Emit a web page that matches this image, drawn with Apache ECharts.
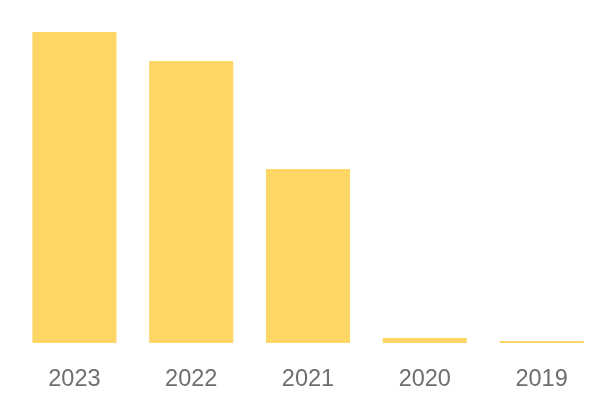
<!DOCTYPE html>
<html><head><meta charset="utf-8">
<script src="https://cdn.jsdelivr.net/npm/echarts@6/dist/echarts.min.js"></script>
<style>html,body{margin:0;padding:0;background:#fff}#c{width:600px;height:400px}</style>
</head><body><div id="c"></div>
<script>
const categories = ['2023', '2022', '2021', '2020', '2019'];
const values = [311, 282, 174, 5, 2];

const chart = echarts.init(document.getElementById('c'), null, {renderer: 'canvas'});
chart.setOption({
  animation: false,
  grid: {left: 16, right: 0, top: 32, bottom: 57},
  xAxis: {
    type: 'category',
    data: categories,
    axisLine: {show: false},
    axisTick: {show: false},
    axisLabel: {color: '#6e6e6e', fontSize: 23.5, margin: 25, fontFamily: 'Liberation Sans'}
  },
  yAxis: {type: 'value', min: 0, max: 311, show: false, splitLine: {show: false}},
  series: [{
    type: 'bar',
    data: values,
    barCategoryGap: '28%',
    itemStyle: {color: '#fed666'}
  }]
});
</script></body></html>
